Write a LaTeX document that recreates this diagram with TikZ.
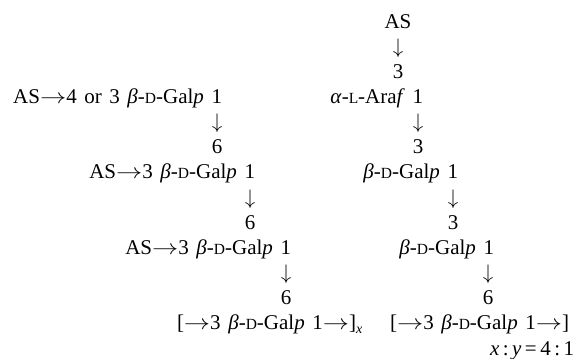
\RequirePackage{fix-cm}
\documentclass[tikz,border=0pt]{standalone}
\usepackage{graphicx}
\usepackage{fontspec}
\setmainfont{Liberation Serif}
\newcommand{\scd}[1]{{\fontsize{15.5bp}{15.5bp}\selectfont #1}}
\newcommand{\ra}{\scalebox{1.25}[1]{$\rightarrow$}}
\newcommand{\da}{\ensuremath{\downarrow}}
\newcommand{\bdg}{\textit{β}-\scd{D}-Gal\textit{p}}
\newcommand{\sub}[1]{\raisebox{-0.35ex}{\fontsize{14bp}{14bp}\selectfont\textit{#1}}}
\newcommand{\myfont}{\fontsize{21bp}{25bp}\selectfont\spaceskip=0.36em\relax}
\begin{document}
\begin{tikzpicture}[x=1bp,y=-1bp,
  t/.style={inner sep=0pt, outer sep=0pt, font=\myfont},
  tw/.style={t, anchor=base west},
  te/.style={t, anchor=base east},
  tc/.style={t, anchor=base}]
\useasboundingbox (0,0) rectangle (584,358);
% right chain
\node[tc] (as0) at (398,28) {AS};
\node[tc] (d1) at (398,53.2) {\da};
\node[tc] (n1) at (398,78.3) {3};
\node[te] (ara) at (423,103.5) {\textit{α}-\scd{L}-Ara\textit{f} 1};
\node[tc] (d2) at (418,128.6) {\da};
\node[tc] (n2) at (418,153.8) {3};
\node[te] (g1) at (458,178.9) {\bdg\ 1};
\node[tc] (d3) at (453,204.1) {\da};
\node[tc] (n3) at (453,229.2) {3};
\node[te] (g2) at (494,254.4) {\bdg\ 1};
\node[tc] (d4) at (488,279.5) {\da};
\node[tc] (n4) at (488,304.7) {6};
\node[tw] (gr) at (390,329.8) {[\ra3 \bdg\ 1\ra]};
\node[tw] (ratio) at (490,355) {\textit{x}\,:\,\textit{y}\,=\,4\,:\,1};
% left chain
\node[te] (l1) at (222,103.5) {AS\ra4 or 3 \bdg\ 1};
\node[tc] (ld1) at (217,128.6) {\da};
\node[tc] (ln1) at (217,153.8) {6};
\node[te] (l2) at (255,178.9) {AS\ra3 \bdg\ 1};
\node[tc] (ld2) at (250,204.1) {\da};
\node[tc] (ln2) at (250,229.2) {6};
\node[te] (l3) at (291,254.4) {AS\ra3 \bdg\ 1};
\node[tc] (ld3) at (286,279.5) {\da};
\node[tc] (ln3) at (286,304.7) {6};
\node[tw] (lg) at (177,329.8) {[\ra3 \bdg\ 1\ra]\sub{x}};
\end{tikzpicture}
\end{document}
